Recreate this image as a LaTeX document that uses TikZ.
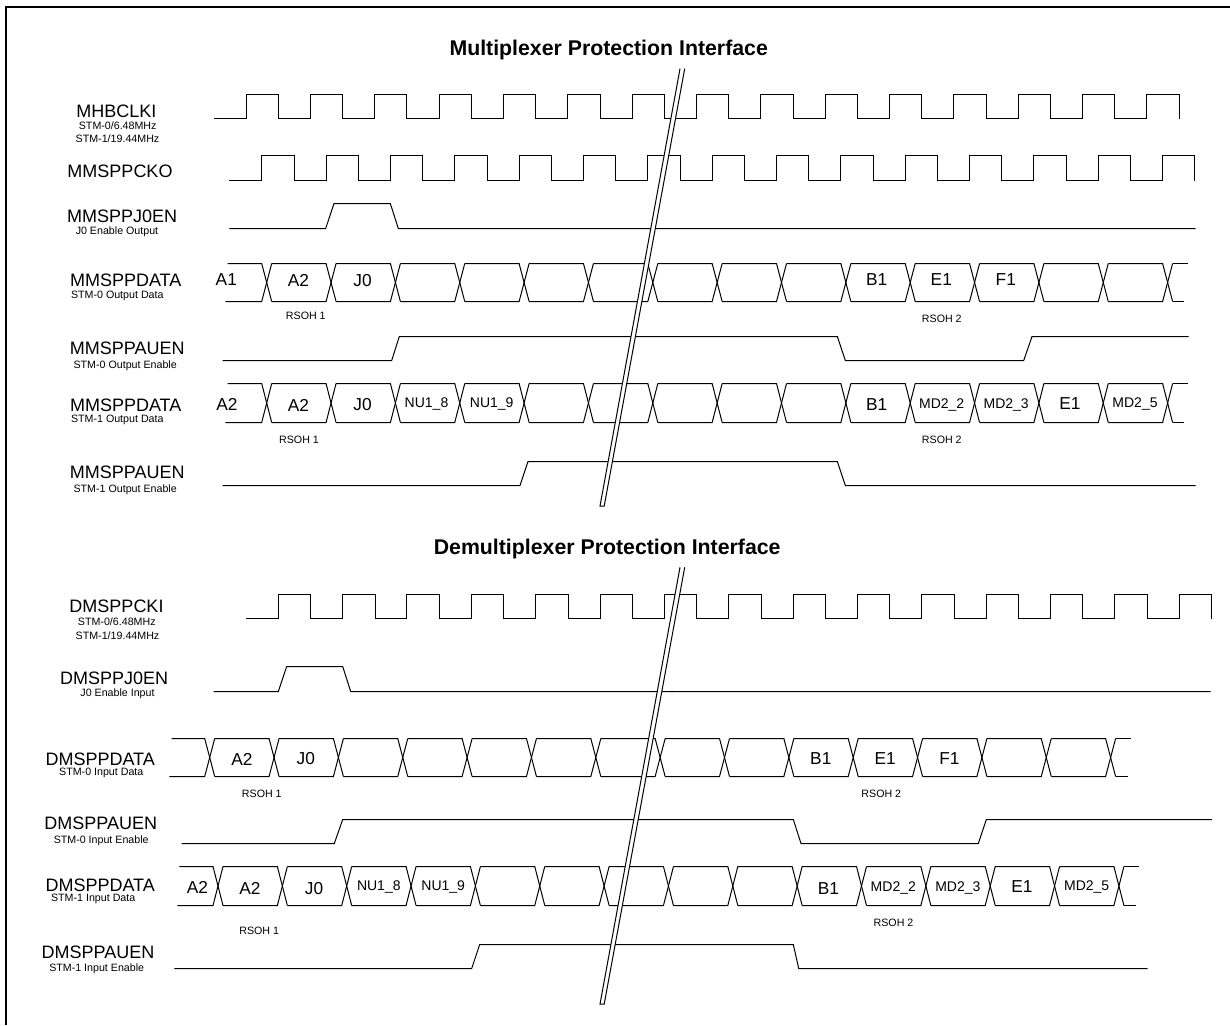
\documentclass[tikz,border=0pt]{standalone}
\usepackage{fontspec}
\setmainfont{Liberation Sans}
\newcommand{\ClockWave}[7]{% start x, first rise, first fall, count-1, low, high, extra
  \draw[wave] (#1,#5)
    foreach \k in {0,...,#4} { -- ({#2+\k*64.34},#5) -- ({#2+\k*64.34},#6) -- ({#3+\k*64.34},#6) -- ({#3+\k*64.34},#5) }
    #7;
}
\newcommand{\BusWave}[7]{% first crossing, top, bottom, left top, left bottom, right top, right bottom
  \draw[wave] (#4,#2) -- ({#1-4.5},#2) -- ({#1+5.5},#3);
  \draw[wave] (#5,#3) -- ({#1-4.5},#3) -- ({#1+5.5},#2);
  \foreach \k in {0,...,13} {
    \draw[wave] ({#1+\k*64.35+5.5},#2) -- ({#1+(\k+1)*64.35-4.5},#2) -- ({#1+(\k+1)*64.35+5.5},#3);
    \draw[wave] ({#1+\k*64.35+5.5},#3) -- ({#1+(\k+1)*64.35-4.5},#3) -- ({#1+(\k+1)*64.35+5.5},#2);
  }
  \draw[wave] ({#1+14*64.35+5.5},#2) -- (#6,#2);
  \draw[wave] ({#1+14*64.35+5.5},#3) -- (#7,#3);
}
\newcommand{\BreakMark}[4]{% top y, bottom y, name, (unused)
  \fill[white] (680,#1) -- (684.7,#1) -- (604.2,#2) -- (600,#2) -- cycle;
  \draw[wave,line join=miter] (680,#1) -- (600,#2) -- (604.2,#2) -- (684.7,#1);
}
\tikzset{
  wave/.style={draw=black,line width=1pt,line join=miter},
  frameline/.style={draw=black,line width=2pt,line join=miter},
  sig/.style={inner sep=0pt,font=\fontsize{18}{19}\selectfont},
  sub/.style={inner sep=0pt,font=\fontsize{10.67}{12}\selectfont},
  val/.style={inner sep=0pt,font=\fontsize{17.3}{18}\selectfont},
  cell/.style={inner sep=0pt,font=\fontsize{14}{15}\selectfont},
  note/.style={inner sep=0pt,font=\fontsize{10.67}{12}\selectfont},
  ttl/.style={inner sep=0pt,font=\bfseries\fontsize{21.3}{23}\selectfont}
}
\begin{document}
\begin{tikzpicture}[x=1pt,y=-1pt]
\useasboundingbox (0,0) rectangle (1230,1025);
\fill[white] (0,0) rectangle (1230,1025);
\draw[frameline] (1230,6.7) -- (6.2,6.7) -- (6.2,1025);

% titles
\node[ttl] (t1) at (608.7,50) {Multiplexer Protection Interface};
\node[ttl] (t2) at (607.2,548.7) {Demultiplexer Protection Interface};

% multiplexer waveforms
\ClockWave{214}{246}{278.3}{14}{118.5}{94.5}{}
\ClockWave{229.3}{261.7}{294}{14}{180.5}{155.5}{}
\draw[wave] (229.3,228.5) -- (325.7,228.5) -- (334,203.5) -- (390.3,203.5) -- (398.3,228.5) -- (1195.7,228.5);
\BusWave{266.2}{263.5}{301.5}{227.7}{225.3}{1187.7}{1184}
\draw[wave] (222.7,360.5) -- (391.7,360.5) -- (399.3,336.5) -- (837.3,336.5) -- (845.3,360.5) -- (1023.7,360.5) -- (1032,336.5) -- (1188.7,336.5);
\BusWave{266.2}{383.5}{422.5}{227.7}{225.3}{1187.7}{1184}
\draw[wave] (222.7,485.5) -- (520,485.5) -- (528,461.5) -- (837.3,461.5) -- (845.3,485.5) -- (1195.7,485.5);

% demultiplexer waveforms
\ClockWave{246}{278.3}{310.7}{14}{618.5}{594.5}{}
\draw[wave] (213.7,691.5) -- (278.3,691.5) -- (286.7,666.5) -- (342.7,666.5) -- (350.7,691.5) -- (1210.7,691.5);
\fill[black] (672,691.5) circle (0.9);
\BusWave{209.2}{738.5}{776.5}{171.7}{169.3}{1131}{1127.7}
\draw[wave] (181.7,843.5) -- (334.3,843.5) -- (342.7,819.5) -- (793.3,819.5) -- (801,843.5) -- (978.3,843.5) -- (986.3,819.5) -- (1212,819.5);
\BusWave{217.5}{866.5}{905.5}{179.3}{177.3}{1139.3}{1135.7}
\draw[wave] (174.3,968.5) -- (471.7,968.5) -- (479.7,944.5) -- (793.3,944.5) -- (798.7,968.5) -- (1147.7,968.5);

% break marks
\BreakMark{68.7}{506}{b1}{}
\BreakMark{567.3}{1004}{b2}{}

% signal names, multiplexer
\node[sig] (mhb) at (116.3,111) {MHBCLKI};
\node[sub] (mhb0) at (117.7,126) {STM-0/6.48MHz};
\node[sub] (mhb1) at (117.5,138.3) {STM-1/19.44MHz};
\node[sig] (mck) at (120,171) {MMSPPCKO};
\node[sig] (mj0) at (122.2,216) {MMSPPJ0EN};
\node[sub] (mj0s) at (117,231.3) {J0 Enable Output};
\node[sig] (md0) at (125.7,280) {MMSPPDATA};
\node[sub] (md0s) at (117.3,295.7) {STM-0 Output Data};
\node[sig] (ma0) at (127.3,348.3) {MMSPPAUEN};
\node[sub] (ma0s) at (125.2,365.7) {STM-0 Output Enable};
\node[sig] (md1) at (125.7,405) {MMSPPDATA};
\node[sub] (md1s) at (117.3,419.7) {STM-1 Output Data};
\node[sig] (ma1) at (127.3,472.7) {MMSPPAUEN};
\node[sub] (ma1s) at (125.2,489.7) {STM-1 Output Enable};

% bus values, multiplexer
\node[val] (a1) at (226.3,280) {A1};
\node[val] (a20) at (298.5,280.7) {A2};
\node[val] (j00) at (362.5,280.7) {J0};
\node[val] (b10) at (876.7,280) {B1};
\node[val] (e10) at (941.3,280) {E1};
\node[val] (f10) at (1005.8,280) {F1};
\node[note] (r10) at (305.8,315.7) {RSOH 1};
\node[note] (r20) at (941.8,319.3) {RSOH 2};
\node[val] (a21) at (227,404.3) {A2};
\node[val] (a22) at (298.5,405) {A2};
\node[val] (j01) at (362.5,405) {J0};
\node[cell] (n18) at (426.5,404) {NU1\_8};
\node[cell] (n19) at (491.7,404) {NU1\_9};
\node[val] (b11) at (876.7,404.5) {B1};
\node[cell] (m22) at (941.7,405.3) {MD2\_2};
\node[cell] (m23) at (1006.2,405.3) {MD2\_3};
\node[val] (e11) at (1070,404) {E1};
\node[cell] (m25) at (1135,404) {MD2\_5};
\node[note] (r11) at (299,440) {RSOH 1};
\node[note] (r21) at (941.8,440.3) {RSOH 2};

% signal names, demultiplexer
\node[sig] (dck) at (116.5,606.7) {DMSPPCKI};
\node[sub] (dck0) at (116.8,622) {STM-0/6.48MHz};
\node[sub] (dck1) at (117.5,635.7) {STM-1/19.44MHz};
\node[sig] (dj0) at (114.2,678) {DMSPPJ0EN};
\node[sub] (dj0s) at (117.5,693.7) {J0 Enable Input};
\node[sig] (dd0) at (100.2,759) {DMSPPDATA};
\node[sub] (dd0s) at (101.3,773.3) {STM-0 Input Data};
\node[sig] (da0) at (100.8,823.3) {DMSPPAUEN};
\node[sub] (da0s) at (101.2,840.7) {STM-0 Input Enable};
\node[sig] (dd1) at (100.2,885.3) {DMSPPDATA};
\node[sub] (dd1s) at (93.2,899.3) {STM-1 Input Data};
\node[sig] (da1) at (98,952) {DMSPPAUEN};
\node[sub] (da1s) at (96.7,968.7) {STM-1 Input Enable};

% bus values, demultiplexer
\node[val] (da20) at (242,759) {A2};
\node[val] (dj00) at (305.8,759) {J0};
\node[val] (db10) at (820.8,759) {B1};
\node[val] (de10) at (885.2,759) {E1};
\node[val] (df10) at (949.5,759) {F1};
\node[note] (dr10) at (261.8,794) {RSOH 1};
\node[note] (dr20) at (881.3,794) {RSOH 2};
\node[val] (da21) at (197.5,887) {A2};
\node[val] (da22) at (250,888.3) {A2};
\node[val] (dj01) at (314,888.3) {J0};
\node[cell] (dn18) at (378.8,887.3) {NU1\_8};
\node[cell] (dn19) at (443.2,887.3) {NU1\_9};
\node[val] (db11) at (828.5,888.3) {B1};
\node[cell] (dm22) at (893.3,888.3) {MD2\_2};
\node[cell] (dm23) at (957.8,888.3) {MD2\_3};
\node[val] (de11) at (1022,887) {E1};
\node[cell] (dm25) at (1086.7,887) {MD2\_5};
\node[note] (dr11) at (259.2,931.3) {RSOH 1};
\node[note] (dr21) at (893.5,923.3) {RSOH 2};
\end{tikzpicture}
\end{document}
